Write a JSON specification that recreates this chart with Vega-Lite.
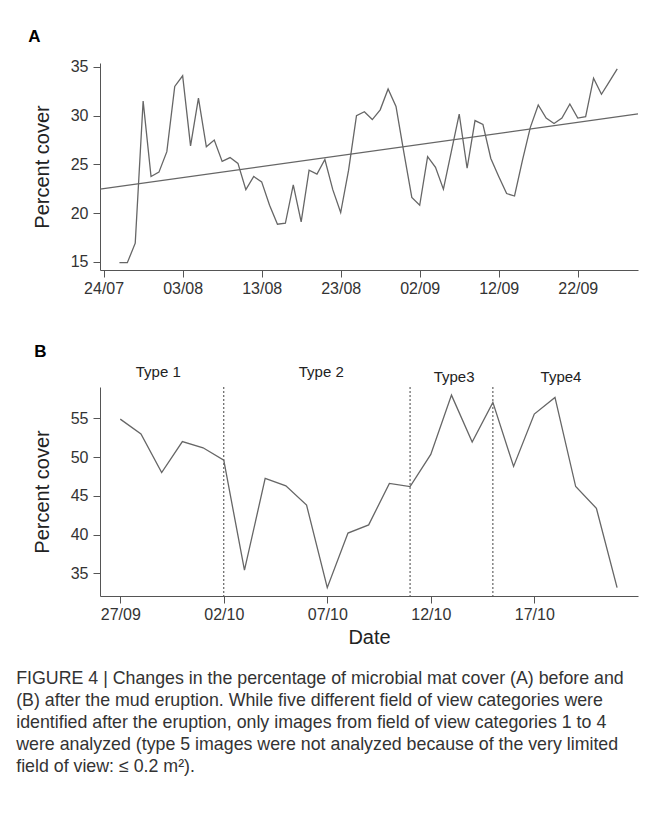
{
  "$schema": "https://vega.github.io/schema/vega-lite/v6.json",
  "background": "white",
  "padding": {"left": 16, "top": 27, "right": 5, "bottom": 5},
  "datasets": {
    "before": [
      {"date": "2014-07-26T00:00", "cover": 14.9},
      {"date": "2014-07-27T00:00", "cover": 14.9},
      {"date": "2014-07-28T00:00", "cover": 16.9},
      {"date": "2014-07-29T00:00", "cover": 31.5},
      {"date": "2014-07-30T00:00", "cover": 23.75},
      {"date": "2014-07-31T00:00", "cover": 24.2},
      {"date": "2014-08-01T00:00", "cover": 26.3},
      {"date": "2014-08-02T00:00", "cover": 33.0},
      {"date": "2014-08-03T00:00", "cover": 34.1},
      {"date": "2014-08-04T00:00", "cover": 26.9},
      {"date": "2014-08-05T00:00", "cover": 31.8},
      {"date": "2014-08-06T00:00", "cover": 26.8},
      {"date": "2014-08-07T00:00", "cover": 27.5},
      {"date": "2014-08-08T00:00", "cover": 25.3},
      {"date": "2014-08-09T00:00", "cover": 25.7},
      {"date": "2014-08-10T00:00", "cover": 25.1},
      {"date": "2014-08-11T00:00", "cover": 22.4},
      {"date": "2014-08-12T00:00", "cover": 23.75},
      {"date": "2014-08-13T00:00", "cover": 23.2},
      {"date": "2014-08-14T00:00", "cover": 20.8},
      {"date": "2014-08-15T00:00", "cover": 18.85},
      {"date": "2014-08-16T00:00", "cover": 18.95},
      {"date": "2014-08-17T00:00", "cover": 22.9},
      {"date": "2014-08-18T00:00", "cover": 19.1},
      {"date": "2014-08-19T00:00", "cover": 24.4},
      {"date": "2014-08-20T00:00", "cover": 24.0},
      {"date": "2014-08-21T00:00", "cover": 25.5},
      {"date": "2014-08-22T00:00", "cover": 22.4},
      {"date": "2014-08-23T00:00", "cover": 20.05},
      {"date": "2014-08-24T00:00", "cover": 24.4},
      {"date": "2014-08-25T00:00", "cover": 30.0},
      {"date": "2014-08-26T00:00", "cover": 30.4},
      {"date": "2014-08-27T00:00", "cover": 29.6},
      {"date": "2014-08-28T00:00", "cover": 30.6},
      {"date": "2014-08-29T00:00", "cover": 32.75},
      {"date": "2014-08-30T00:00", "cover": 30.95},
      {"date": "2014-08-31T00:00", "cover": 26.2},
      {"date": "2014-09-01T00:00", "cover": 21.6},
      {"date": "2014-09-02T00:00", "cover": 20.8},
      {"date": "2014-09-03T00:00", "cover": 25.8},
      {"date": "2014-09-04T00:00", "cover": 24.7},
      {"date": "2014-09-05T00:00", "cover": 22.45},
      {"date": "2014-09-06T00:00", "cover": 26.3},
      {"date": "2014-09-07T00:00", "cover": 30.15},
      {"date": "2014-09-08T00:00", "cover": 24.6},
      {"date": "2014-09-09T00:00", "cover": 29.5},
      {"date": "2014-09-10T00:00", "cover": 29.1},
      {"date": "2014-09-11T00:00", "cover": 25.6},
      {"date": "2014-09-12T00:00", "cover": 23.75},
      {"date": "2014-09-13T00:00", "cover": 22.0},
      {"date": "2014-09-14T00:00", "cover": 21.75},
      {"date": "2014-09-15T00:00", "cover": 25.4},
      {"date": "2014-09-16T00:00", "cover": 28.8},
      {"date": "2014-09-17T00:00", "cover": 31.1},
      {"date": "2014-09-18T00:00", "cover": 29.75},
      {"date": "2014-09-19T00:00", "cover": 29.2},
      {"date": "2014-09-20T00:00", "cover": 29.75},
      {"date": "2014-09-21T00:00", "cover": 31.2},
      {"date": "2014-09-22T00:00", "cover": 29.75},
      {"date": "2014-09-23T00:00", "cover": 29.9},
      {"date": "2014-09-24T00:00", "cover": 33.85},
      {"date": "2014-09-25T00:00", "cover": 32.2},
      {"date": "2014-09-26T00:00", "cover": 33.5},
      {"date": "2014-09-27T00:00", "cover": 34.8}
    ],
    "trend": [
      {"date": "2014-07-23T13:00", "cover": 22.45},
      {"date": "2014-09-29T15:00", "cover": 30.18}
    ],
    "after": [
      {"date": "2014-09-27T00:00", "cover": 54.9},
      {"date": "2014-09-28T00:00", "cover": 53.0},
      {"date": "2014-09-29T00:00", "cover": 48.0},
      {"date": "2014-09-30T00:00", "cover": 52.0},
      {"date": "2014-10-01T00:00", "cover": 51.2},
      {"date": "2014-10-02T00:00", "cover": 49.6},
      {"date": "2014-10-03T00:00", "cover": 35.4},
      {"date": "2014-10-04T00:00", "cover": 47.25},
      {"date": "2014-10-05T00:00", "cover": 46.3},
      {"date": "2014-10-06T00:00", "cover": 43.8},
      {"date": "2014-10-07T00:00", "cover": 33.15},
      {"date": "2014-10-08T00:00", "cover": 40.2},
      {"date": "2014-10-09T00:00", "cover": 41.25},
      {"date": "2014-10-10T00:00", "cover": 46.6},
      {"date": "2014-10-11T00:00", "cover": 46.2},
      {"date": "2014-10-12T00:00", "cover": 50.35},
      {"date": "2014-10-13T00:00", "cover": 58.0},
      {"date": "2014-10-14T00:00", "cover": 51.95},
      {"date": "2014-10-15T00:00", "cover": 57.07},
      {"date": "2014-10-16T00:00", "cover": 48.8},
      {"date": "2014-10-17T00:00", "cover": 55.56},
      {"date": "2014-10-18T00:00", "cover": 57.7},
      {"date": "2014-10-19T00:00", "cover": 46.2},
      {"date": "2014-10-20T00:00", "cover": 43.4},
      {"date": "2014-10-21T00:00", "cover": 33.15}
    ],
    "breaks": [
      {"date": "2014-10-02T00:00"},
      {"date": "2014-10-11T00:00"},
      {"date": "2014-10-15T00:00"}
    ],
    "types": [
      {"date": "2014-09-28T20:00", "cover": 61.0, "label": "Type 1"},
      {"date": "2014-10-06T17:00", "cover": 61.0, "label": "Type 2"},
      {"date": "2014-10-13T03:00", "cover": 60.35, "label": "Type3"},
      {"date": "2014-10-18T07:00", "cover": 60.35, "label": "Type4"}
    ]
  },
  "title": {
    "text": [
      "FIGURE 4 | Changes in the percentage of microbial mat cover (A) before and",
      "(B) after the mud eruption. While five different field of view categories were",
      "identified after the eruption, only images from field of view categories 1 to 4",
      "were analyzed (type 5 images were not analyzed because of the very limited",
      "field of view: ≤ 0.2 m²)."
    ],
    "orient": "bottom",
    "anchor": "start",
    "dx": -12,
    "offset": 23,
    "font": "Liberation Sans",
    "fontSize": 17.8,
    "fontWeight": "normal",
    "color": "#333333",
    "lineHeight": 22
  },
  "spacing": 46,
  "vconcat": [
    {
      "title": {"text": "A", "anchor": "start", "frame": "bounds", "fontSize": 17, "fontWeight": "bold", "color": "#000000", "offset": 13, "dx": -4, "font": "Liberation Sans"},
      "width": 538,
      "height": 207,
      "layer": [
        {
          "data": {"name": "before"},
          "mark": {"type": "line", "color": "#666666", "strokeWidth": 1.3},
          "encoding": {
            "x": {
              "field": "date", "type": "temporal",
              "scale": {"domain": [{"year": 2014, "month": 7, "date": 23, "hours": 13}, {"year": 2014, "month": 9, "date": 29, "hours": 15}]},
              "axis": {
                "title": null, "format": "%d/%m", "labelFlush": false,
                "values": [
                  {"year": 2014, "month": 7, "date": 24},
                  {"year": 2014, "month": 8, "date": 3},
                  {"year": 2014, "month": 8, "date": 13},
                  {"year": 2014, "month": 8, "date": 23},
                  {"year": 2014, "month": 9, "date": 2},
                  {"year": 2014, "month": 9, "date": 12},
                  {"year": 2014, "month": 9, "date": 22}
                ]
              }
            },
            "y": {
              "field": "cover", "type": "quantitative",
              "scale": {"domain": [14.15, 35.41], "nice": false, "zero": false},
              "axis": {"title": "Percent cover", "values": [15, 20, 25, 30, 35]}
            }
          }
        },
        {
          "data": {"name": "trend"},
          "mark": {"type": "line", "color": "#666666", "strokeWidth": 1.2},
          "encoding": {
            "x": {"field": "date", "type": "temporal"},
            "y": {"field": "cover", "type": "quantitative"}
          }
        }
      ]
    },
    {
      "title": {"text": "B", "anchor": "start", "frame": "bounds", "fontSize": 17, "fontWeight": "bold", "color": "#000000", "offset": 4, "dx": 2, "font": "Liberation Sans"},
      "width": 538,
      "height": 209,
      "layer": [
        {
          "data": {"name": "breaks"},
          "mark": {"type": "rule", "color": "#444444", "strokeWidth": 1, "strokeDash": [2, 2]},
          "encoding": {
            "x": {
              "field": "date", "type": "temporal",
              "scale": {"domain": [{"year": 2014, "month": 9, "date": 26, "hours": 0, "minutes": 30}, {"year": 2014, "month": 10, "date": 22, "hours": 0, "minutes": 15}]},
              "axis": {
                "title": "Date", "format": "%d/%m", "labelFlush": false,
                "values": [
                  {"year": 2014, "month": 9, "date": 27},
                  {"year": 2014, "month": 10, "date": 2},
                  {"year": 2014, "month": 10, "date": 7},
                  {"year": 2014, "month": 10, "date": 12},
                  {"year": 2014, "month": 10, "date": 17}
                ]
              }
            }
          }
        },
        {
          "data": {"name": "after"},
          "mark": {"type": "line", "color": "#666666", "strokeWidth": 1.3},
          "encoding": {
            "x": {"field": "date", "type": "temporal"},
            "y": {
              "field": "cover", "type": "quantitative",
              "scale": {"domain": [32.07, 59.05], "nice": false, "zero": false},
              "axis": {"title": "Percent cover", "values": [35, 40, 45, 50, 55]}
            }
          }
        },
        {
          "data": {"name": "types"},
          "mark": {"type": "text", "font": "Liberation Sans", "fontSize": 15, "color": "#222222", "baseline": "middle", "align": "center"},
          "encoding": {
            "x": {"field": "date", "type": "temporal"},
            "y": {"field": "cover", "type": "quantitative"},
            "text": {"field": "label"}
          }
        }
      ]
    }
  ],
  "config": {
    "view": {"stroke": null},
    "axis": {
      "domainColor": "#555555", "tickColor": "#555555", "labelColor": "#333333",
      "labelFont": "Liberation Sans", "labelFontSize": 16,
      "titleFont": "Liberation Sans", "titleFontSize": 20, "titleFontWeight": "normal", "titleColor": "#222222",
      "tickSize": 7, "grid": false, "domainWidth": 1, "tickWidth": 1
    },
    "axisY": {"labelPadding": 5, "titlePadding": 18},
    "axisX": {"labelPadding": 3, "titlePadding": 5}
  }
}
